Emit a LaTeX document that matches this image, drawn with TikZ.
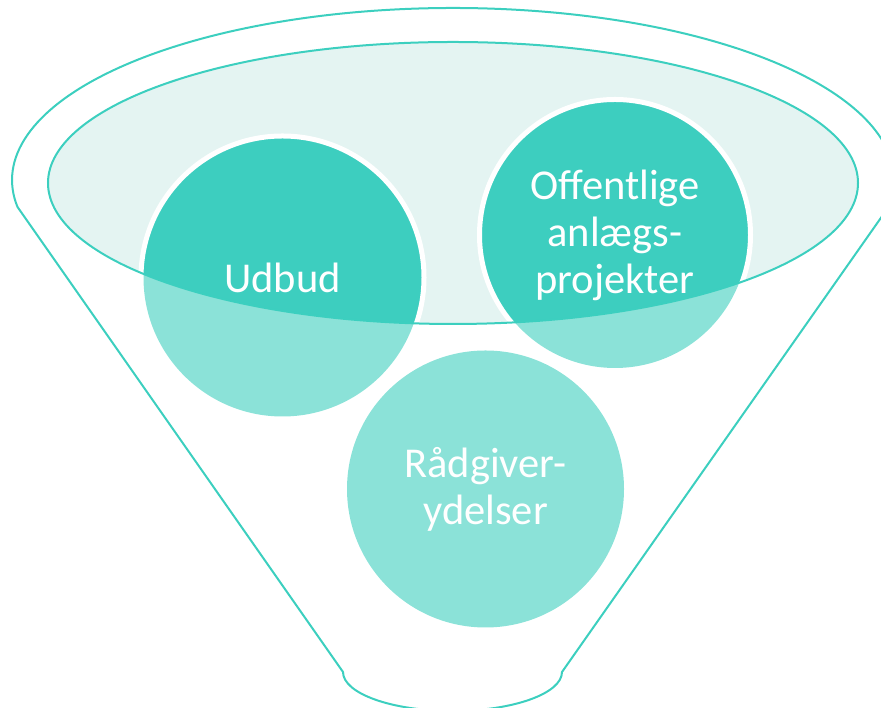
\documentclass[tikz,border=0pt]{standalone}
\usepackage{fontspec}
\setmainfont{Carlito}
\definecolor{funnelline}{HTML}{3CCFBF}
\definecolor{discdark}{HTML}{3DCEBF}
\definecolor{disclight}{HTML}{8BE2D8}
\definecolor{rimfill}{HTML}{E4F4F2}

\begin{document}
\begin{tikzpicture}
  [x=1pt, y=1pt,
   funnel/.style = {draw=funnelline, line width=2pt},
   rim/.style = {x radius=405, y radius=141},
   word/.style = {align=center, text=white, inner sep=0pt,
     font=\fontsize{42.5}{47}\selectfont}]
  \clip (0,0) rectangle (881,708);
  \coordinate (rimc) at (453,525);
  \coordinate (u) at (282.5,430.5);
  \coordinate (o) at (615,473);
  \coordinate (r) at (485.5,219);
  % funnel body
  \draw[funnel] (888.6,501.1) arc [start angle=-9, end angle=189, x radius=441, y radius=172]
    -- (343,36) arc [start angle=180, end angle=360, x radius=109.5, y radius=39] -- cycle;
  \fill[rimfill] (rimc) ellipse [rim];
  % discs, lighter below the rim
  \foreach \p/\rad in {u/139, o/133, r/138.5}
    \fill[disclight] (\p) circle [radius=\rad];
  \begin{scope}
    \clip (rimc) ellipse [rim];
    \foreach \p/\rad in {u/139, o/133, r/138.5}
      \filldraw[fill=discdark, draw=white, line width=5pt] (\p) circle [radius=\rad+2.5];
  \end{scope}
  \draw[funnel] (rimc) ellipse [rim];
  \node[word] (udbud) at (u) {Udbud};
  \node[word] (anlaeg) at (o) {Offentlige\\anlægs-\\projekter};
  \node[word] (raadgiver) at (r) {Rådgiver-\\ydelser};
\end{tikzpicture}
\end{document}
